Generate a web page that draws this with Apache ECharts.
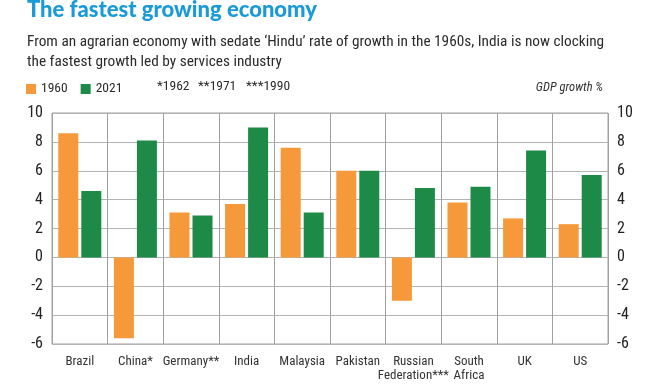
<!DOCTYPE html>
<html>
<head>
<meta charset="utf-8">
<script src="https://cdn.jsdelivr.net/npm/echarts@6/dist/echarts.min.js"></script>
<style>
html,body{margin:0;padding:0;background:#fff;}
#c{width:660px;height:388px;}
</style>
</head>
<body>
<div id="c"></div>
<script>
const categories = ['Brazil', 'China*', 'Germany**', 'India', 'Malaysia', 'Pakistan', 'Russian\nFederation***', 'South\nAfrica', 'UK', 'US'];
const values1960 = [8.6, -5.6, 3.1, 3.7, 7.6, 6.0, -3.0, 3.8, 2.7, 2.3];
const values2021 = [4.6, 8.1, 2.9, 9.0, 3.1, 6.0, 4.8, 4.9, 7.4, 5.7];
const yTicks = [-6, -4, -2, 0, 2, 4, 6, 8, 10];
const footnotes = ['*1962', '**1971', '***1990'];

const FONT = '"Roboto Condensed", "DejaVu Sans Condensed", sans-serif';
const TITLE_FONT = 'Lato, "Roboto Condensed", sans-serif';
const chart = echarts.init(document.getElementById('c'));
const axisLabelStyle = { fontFamily: FONT, fontSize: 16, color: '#222' };
const footX = [157, 198, 246];

chart.setOption({
  animation: false,
  backgroundColor: '#fff',
  textStyle: { fontFamily: FONT },
  graphic: [
    { type: 'text', left: 27, top: -1, style: { text: 'The fastest growing economy', font: '900 22px ' + TITLE_FONT, fill: '#1a9ad6' } },
    { type: 'text', left: 27, top: 32, style: { text: 'From an agrarian economy with sedate \u2018Hindu\u2019 rate of growth in the 1960s, India is now clocking\nthe fastest growth led by services industry', font: '15.3px ' + FONT, fill: '#2b2b2b', lineHeight: 20 } },
    ...footnotes.map((t, i) => ({ type: 'text', left: footX[i], top: 80, style: { text: t, font: '13.5px ' + FONT, fill: '#2b2b2b' } })),
    { type: 'text', right: 57, top: 81, style: { text: 'GDP growth %', font: 'italic 12.5px ' + FONT, fill: '#333' } }
  ],
  legend: {
    left: 26, top: 82, padding: 0, itemWidth: 10, itemHeight: 10, itemGap: 13,
    icon: 'rect',
    textStyle: { fontFamily: FONT, fontSize: 13.5, color: '#2b2b2b', padding: [0, 0, 0, 0] },
    data: ['1960', '2021']
  },
  grid: { left: 52, right: 52, top: 113, bottom: 44, show: true, borderColor: '#a0a0a0', borderWidth: 1 },
  xAxis: {
    type: 'category', data: categories,
    axisLine: { show: false },
    axisTick: { show: false },
    splitLine: { show: true, lineStyle: { color: '#a0a0a0', width: 1 } },
    axisLabel: { fontFamily: FONT, fontSize: 13, color: '#333', margin: 11, lineHeight: 14, interval: 0 }
  },
  yAxis: [
    { type: 'value', min: -6, max: 10, interval: 2, position: 'left',
      axisLine: { show: false }, axisTick: { show: false },
      splitLine: { show: true, lineStyle: { color: '#b4b4b4', width: 1 } },
      axisLabel: Object.assign({ margin: 9 }, axisLabelStyle) },
    { type: 'value', min: -6, max: 10, interval: 2, position: 'right',
      axisLine: { show: false }, axisTick: { show: false }, splitLine: { show: false },
      axisLabel: Object.assign({ margin: 9 }, axisLabelStyle) }
  ],
  series: [
    { name: '1960', type: 'bar', data: values1960, barWidth: 20, barGap: '15%', itemStyle: { color: '#f6993a' } },
    { name: '2021', type: 'bar', data: values2021, barWidth: 20, itemStyle: { color: '#1d8a47' } }
  ]
});
</script>
</body>
</html>
